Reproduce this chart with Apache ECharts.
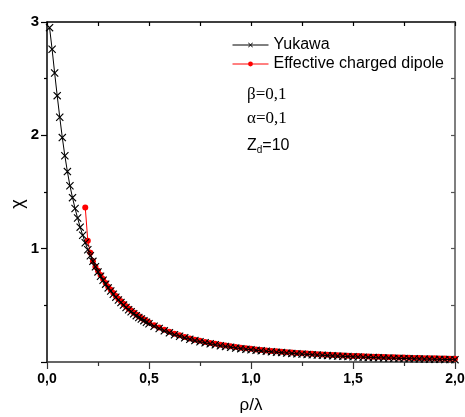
<!DOCTYPE html>
<html>
<head>
<meta charset="utf-8">
<script src="https://cdn.jsdelivr.net/npm/echarts@6/dist/echarts.min.js"></script>
<style>html,body{margin:0;padding:0;background:#fff;}#c{width:465px;height:417px;}</style>
</head>
<body>
<div id="c"></div>
<script>
// ---- data ----
const xTicks = [0, 0.5, 1.0, 1.5, 2.0];
const yTicks = [1, 2, 3];
const seriesNames = ['Yukawa', 'Effective charged dipole'];

const rhoYukawa = [
  0.0125,0.025,0.0375,0.05,0.0625,0.075,0.0875,0.1,0.1125,0.125,0.1375,0.15,0.1625,0.175,0.1875,0.2,
  0.2125,0.225,0.2375,0.25,0.2625,0.275,0.2875,0.3,0.3125,0.325,0.3375,0.35,0.3625,0.375,0.3875,0.4,
  0.4125,0.425,0.4375,0.45,0.4625,0.475,0.4875,0.5,
  0.525,0.55,0.575,0.6,0.625,0.65,0.675,0.7,0.725,0.75,0.775,0.8,0.825,0.85,0.875,0.9,0.925,0.95,0.975,1.0,
  1.025,1.05,1.075,1.1,1.125,1.15,1.175,1.2,1.225,1.25,1.275,1.3,1.325,1.35,1.375,1.4,1.425,1.45,1.475,1.5,
  1.525,1.55,1.575,1.6,1.625,1.65,1.675,1.7,1.725,1.75,1.775,1.8,1.825,1.85,1.875,1.9,1.925,1.95,1.975,2.0
];
const chiYukawa = [
  2.95,2.76,2.55,2.35,2.16,1.98,1.82,1.68,1.555,1.45,1.355,1.27,1.19,1.118,1.052,0.991,
  0.938,0.888,0.840,0.795,0.757,0.721,0.687,0.654,0.626,0.598,0.572,0.547,0.524,0.502,0.481,0.461,
  0.443,0.426,0.409,0.393,0.379,0.365,0.351,0.338,
  0.316,0.295,0.275,0.257,0.241,0.227,0.213,0.200,0.189,0.179,0.169,0.160,0.152,0.144,0.137,0.130,0.124,0.118,0.113,0.108,
  0.103,0.0986,0.0944,0.0904,0.0865,0.0828,0.0793,0.0758,0.0726,0.0695,0.0667,0.0640,0.0614,0.0590,0.0565,0.0543,0.0521,0.0500,0.0479,0.0460,
  0.0442,0.0425,0.0408,0.0392,0.0377,0.0362,0.0348,0.0334,0.0321,0.0308,0.0296,0.0285,0.0274,0.0263,0.0253,0.0243,0.0233,0.0224,0.0215,0.0207
];

const rhoDipole = [
  0.1875,0.2,0.2125,0.225,0.2375,0.25,0.2625,0.275,0.2875,0.3,0.3125,0.325,0.3375,0.35,0.3625,0.375,0.3875,0.4,
  0.4125,0.425,0.4375,0.45,0.4625,0.475,0.4875,0.5,
  0.525,0.55,0.575,0.6,0.625,0.65,0.675,0.7,0.725,0.75,0.775,0.8,0.825,0.85,0.875,0.9,0.925,0.95,0.975,1.0,
  1.025,1.05,1.075,1.1,1.125,1.15,1.175,1.2,1.225,1.25,1.275,1.3,1.325,1.35,1.375,1.4,1.425,1.45,1.475,1.5,
  1.525,1.55,1.575,1.6,1.625,1.65,1.675,1.7,1.725,1.75,1.775,1.8,1.825,1.85,1.875,1.9,1.925,1.95,1.975,2.0
];
const chiDipole = [
  1.364,1.07,0.965,0.89,0.84,0.805,0.768,0.732,0.698,0.665,0.637,0.609,0.583,0.558,0.535,0.513,0.492,0.472,
  0.454,0.437,0.42,0.404,0.389,0.375,0.361,0.348,
  0.325,0.304,0.284,0.266,0.25,0.235,0.221,0.208,0.197,0.187,0.177,0.168,0.16,0.152,0.145,0.138,0.132,0.126,0.121,0.116,
  0.111,0.106,0.102,0.098,0.094,0.091,0.087,0.084,0.08,0.077,0.075,0.072,0.069,0.067,0.064,0.062,0.06,0.058,0.056,0.054,
  0.052,0.05,0.049,0.047,0.046,0.044,0.043,0.041,0.04,0.039,0.037,0.036,0.035,0.034,0.033,0.032,0.031,0.03,0.029,0.028
];

const yTitle = 'χ';
const xTitle = 'ρ/λ';
const annoBeta = 'β=0,1';
const annoAlpha = 'α=0,1';
const annoZ = ['Z', 'd', '=10'];

// ---- chart ----
const zip = (a, b) => a.map((v, i) => [v, b[i]]);
const crossPath = 'path://M0,1L1,0L5,4L9,0L10,1L6,5L10,9L9,10L5,6L1,10L0,9L4,5Z';
const sans = 'Arial, "Liberation Sans", sans-serif';
const serif = '"Times New Roman", "Liberation Serif", serif';

const chart = echarts.init(document.getElementById('c'), null, {renderer: 'canvas'});
chart.setOption({
  animation: false,
  backgroundColor: '#fff',
  grid: {left: 47, right: 10, top: 22, bottom: 55, containLabel: false, outerBoundsMode: 'none'},
  legend: {
    orient: 'vertical', left: 227, top: 32, itemWidth: 36, itemHeight: 6, itemGap: 3,
    lineStyle: {width: 1},
    textStyle: {fontFamily: sans, fontSize: 16, color: '#000'},
    data: seriesNames
  },
  xAxis: [{
    type: 'value', min: 0, max: 2, interval: 0.5,
    name: xTitle, nameLocation: 'middle', nameGap: 35,
    nameTextStyle: {fontFamily: sans, fontSize: 17, color: '#000'},
    axisLine: {show: true, onZero: false, lineStyle: {color: '#333', width: 1.5}},
    axisTick: {show: true, inside: false, length: 7, lineStyle: {color: '#333', width: 1.2}},
    minorTick: {show: true, splitNumber: 2, length: 4, lineStyle: {color: '#333', width: 1.2}},
    axisLabel: {
      margin: 10, fontFamily: sans, fontSize: 14, fontWeight: 'bold', color: '#000',
      formatter: v => xTicks.indexOf(v) >= 0 ? v.toFixed(1).replace('.', ',') : ''
    },
    splitLine: {show: false}
  }, {
    type: 'value', position: 'top', min: 0, max: 2, interval: 0.25,
    axisLine: {show: true, onZero: false, lineStyle: {color: '#000', width: 1.5}},
    axisTick: {show: true, inside: true, length: 4, lineStyle: {color: '#000', width: 1.2}},
    axisLabel: {show: false}, splitLine: {show: false}
  }],
  yAxis: [{
    type: 'value', min: 0, max: 3, interval: 1,
    axisLine: {show: true, onZero: false, lineStyle: {color: '#000', width: 1.5}},
    axisTick: {show: true, inside: false, length: 6, lineStyle: {color: '#000', width: 1.2}},
    minorTick: {show: true, splitNumber: 2, length: 3, lineStyle: {color: '#000', width: 1.2}},
    axisLabel: {
      margin: 8, fontFamily: sans, fontSize: 15, fontWeight: 'bold', color: '#000',
      formatter: v => yTicks.indexOf(v) >= 0 ? String(v) : ''
    },
    splitLine: {show: false}
  }, {
    type: 'value', position: 'right', min: 0, max: 3, interval: 0.5,
    axisLine: {show: true, onZero: false, lineStyle: {color: '#555', width: 1.5}},
    axisTick: {show: true, inside: true, length: 4, lineStyle: {color: '#555', width: 1.2}},
    axisLabel: {show: false}, splitLine: {show: false}
  }],
  graphic: [
    {type: 'text', x: 18, y: 204, rotation: Math.PI / 2,
      style: {text: yTitle, font: '18px ' + sans, fill: '#000', align: 'center', verticalAlign: 'middle'}},
    {type: 'text', left: 247, top: 86, style: {text: annoBeta, font: '17px ' + serif, fill: '#000'}},
    {type: 'text', left: 247, top: 110, style: {text: annoAlpha, font: '17px ' + serif, fill: '#000'}},
    {type: 'text', left: 247, top: 134, style: {
      text: '{z|' + annoZ[0] + '}{d|' + annoZ[1] + '}{z|' + annoZ[2] + '}',
      rich: {
        z: {fontFamily: sans, fontSize: 16, fill: '#000', verticalAlign: 'top', lineHeight: 17},
        d: {fontFamily: sans, fontSize: 10, fill: '#000', verticalAlign: 'bottom', padding: [11, 0, 0, 0], lineHeight: 17}
      }
    }}
  ],
  series: [{
    name: seriesNames[0], type: 'line', xAxisIndex: 0, yAxisIndex: 0,
    data: zip(rhoYukawa, chiYukawa),
    symbol: crossPath, symbolSize: 8, showSymbol: true,
    lineStyle: {color: '#000', width: 1}, itemStyle: {color: '#000'},
    z: 3
  }, {
    name: seriesNames[1], type: 'line', xAxisIndex: 0, yAxisIndex: 0,
    data: zip(rhoDipole, chiDipole),
    symbol: 'circle', symbolSize: 6, showSymbol: true,
    lineStyle: {color: '#ff0000', width: 1}, itemStyle: {color: '#ff0000'},
    z: 2
  }]
});
</script>
</body>
</html>
